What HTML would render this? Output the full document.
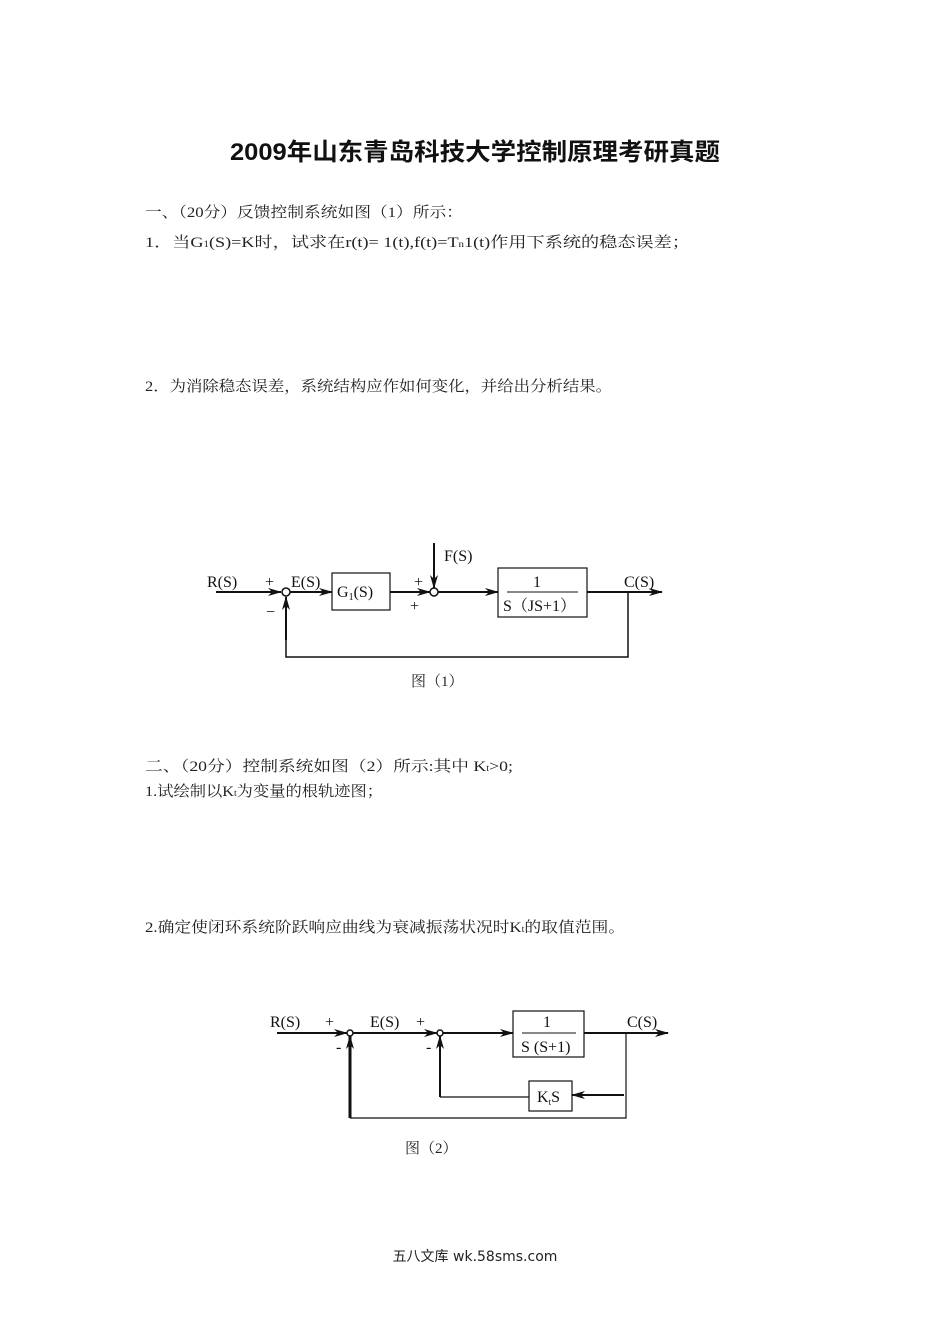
<!DOCTYPE html>
<html><head><meta charset="utf-8"><style>
html,body{margin:0;padding:0;background:#fff;}
svg{display:block;}
.cn{font-family:"Liberation Serif","Noto Serif CJK SC",serif;font-size:15px;fill:#222;}
.d{font-family:"Liberation Serif","Noto Serif CJK SC",serif;font-size:16px;fill:#111;}
</style></head><body>
<svg width="950" height="1344" viewBox="0 0 950 1344" xmlns="http://www.w3.org/2000/svg">
<defs>
<marker id="a" markerWidth="14" markerHeight="8" refX="13" refY="4" orient="auto" markerUnits="userSpaceOnUse">
<path d="M0,0 L14,4 L0,8 L4,4 Z" fill="#111"/></marker>
</defs>
<text x="475" y="160" text-anchor="middle" font-family="Liberation Sans,'Noto Sans CJK SC',sans-serif" font-size="24" font-weight="bold" fill="#111" textLength="490" lengthAdjust="spacingAndGlyphs">2009年山东青岛科技大学控制原理考研真题</text>
<text class="cn" x="145" y="217" textLength="318" lengthAdjust="spacingAndGlyphs">一、（20分）反馈控制系统如图（1）所示：</text>
<text class="cn" x="145" y="247" textLength="545" lengthAdjust="spacingAndGlyphs">1．当G<tspan font-size="9">1</tspan>(S)=K时，试求在r(t)= 1(t),f(t)=T<tspan font-size="9">n</tspan>1(t)作用下系统的稳态误差；</text>
<text class="cn" x="145" y="391" textLength="467" lengthAdjust="spacingAndGlyphs">2．为消除稳态误差，系统结构应作如何变化，并给出分析结果。</text>
<text class="cn" x="145" y="771" textLength="368" lengthAdjust="spacingAndGlyphs">二、（20分）控制系统如图（2）所示:其中 K<tspan font-size="9">t</tspan>&gt;0;</text>
<text class="cn" x="145" y="796" textLength="238" lengthAdjust="spacingAndGlyphs">1.试绘制以K<tspan font-size="9">t</tspan>为变量的根轨迹图；</text>
<text class="cn" x="145" y="932" textLength="480" lengthAdjust="spacingAndGlyphs">2.确定使闭环系统阶跃响应曲线为衰减振荡状况时K<tspan font-size="9">t</tspan>的取值范围。</text>

<!-- Diagram 1 -->
<g stroke="#111" fill="none">
<line x1="216" y1="592" x2="281" y2="592" stroke-width="2" marker-end="url(#a)"/>
<circle cx="286" cy="592" r="4" stroke-width="1.5"/>
<line x1="290" y1="592" x2="332" y2="592" stroke-width="2" marker-end="url(#a)"/>
<rect x="332" y="573" width="58" height="37" stroke-width="1.2"/>
<line x1="390" y1="592" x2="430" y2="592" stroke-width="2" marker-end="url(#a)"/>
<circle cx="434" cy="592" r="4" stroke-width="1.5"/>
<line x1="434" y1="543" x2="434" y2="588" stroke-width="2" marker-end="url(#a)"/>
<line x1="438" y1="592" x2="498" y2="592" stroke-width="2" marker-end="url(#a)"/>
<rect x="498" y="568" width="89" height="49" stroke-width="1.2"/>
<line x1="507" y1="592" x2="578" y2="592" stroke-width="1"/>
<line x1="587" y1="592" x2="662" y2="592" stroke-width="2" marker-end="url(#a)"/>
<polyline points="628,592 628,657 286,657 286,597" stroke-width="1.5"/>
<line x1="286" y1="640" x2="286" y2="597" stroke-width="2" marker-end="url(#a)"/>
</g>
<g class="d">
<text x="207" y="587">R(S)</text>
<text x="265" y="587">+</text>
<text x="291" y="587">E(S)</text>
<text x="266" y="617">−</text>
<text x="337" y="597">G<tspan font-size="10" dy="3">1</tspan><tspan dy="-3">(S)</tspan></text>
<text x="444" y="561">F(S)</text>
<text x="414" y="587">+</text>
<text x="410" y="611">+</text>
<text x="533" y="587">1</text>
<text x="503" y="611">S（JS+1）</text>
<text x="624" y="587">C(S)</text>
</g>
<text class="cn" x="411" y="686">图（1）</text>

<!-- Diagram 2 -->
<g stroke="#111" fill="none">
<line x1="277" y1="1033" x2="347" y2="1033" stroke-width="2" marker-end="url(#a)"/>
<circle cx="350" cy="1033" r="3" stroke-width="1.5"/>
<line x1="353" y1="1033" x2="437" y2="1033" stroke-width="2" marker-end="url(#a)"/>
<circle cx="440" cy="1033" r="3" stroke-width="1.5"/>
<line x1="443" y1="1033" x2="513" y2="1033" stroke-width="2" marker-end="url(#a)"/>
<rect x="513" y="1011" width="71" height="46" stroke-width="1.2"/>
<line x1="522" y1="1033" x2="576" y2="1033" stroke-width="1"/>
<line x1="584" y1="1033" x2="668" y2="1033" stroke-width="2" marker-end="url(#a)"/>
<polyline points="626,1033 626,1118 350,1118" stroke-width="1.2"/>
<line x1="350" y1="1118" x2="350" y2="1036" stroke-width="3" marker-end="url(#a)"/>
<line x1="624" y1="1095" x2="572" y2="1095" stroke-width="2" marker-end="url(#a)"/>
<rect x="529" y="1081" width="43" height="30" stroke-width="1.2"/>
<polyline points="529,1097 440,1097" stroke-width="1.2"/>
<line x1="440" y1="1097" x2="440" y2="1036" stroke-width="2" marker-end="url(#a)"/>
</g>
<g class="d">
<text x="270" y="1027">R(S)</text>
<text x="325" y="1027">+</text>
<text x="370" y="1027">E(S)</text>
<text x="416" y="1027">+</text>
<text x="336" y="1052">-</text>
<text x="426" y="1052">-</text>
<text x="543" y="1027">1</text>
<text x="521" y="1052">S (S+1)</text>
<text x="627" y="1027">C(S)</text>
<text x="537" y="1102">K<tspan font-size="9" dy="3">t</tspan><tspan dy="-3">S</tspan></text>
</g>
<text class="cn" x="405" y="1153">图（2）</text>

<text x="475" y="1261" text-anchor="middle" font-family="'DejaVu Sans','Noto Sans CJK SC',sans-serif" font-size="14" fill="#222">五八文库 wk.58sms.com</text>
</svg>
</body></html>
